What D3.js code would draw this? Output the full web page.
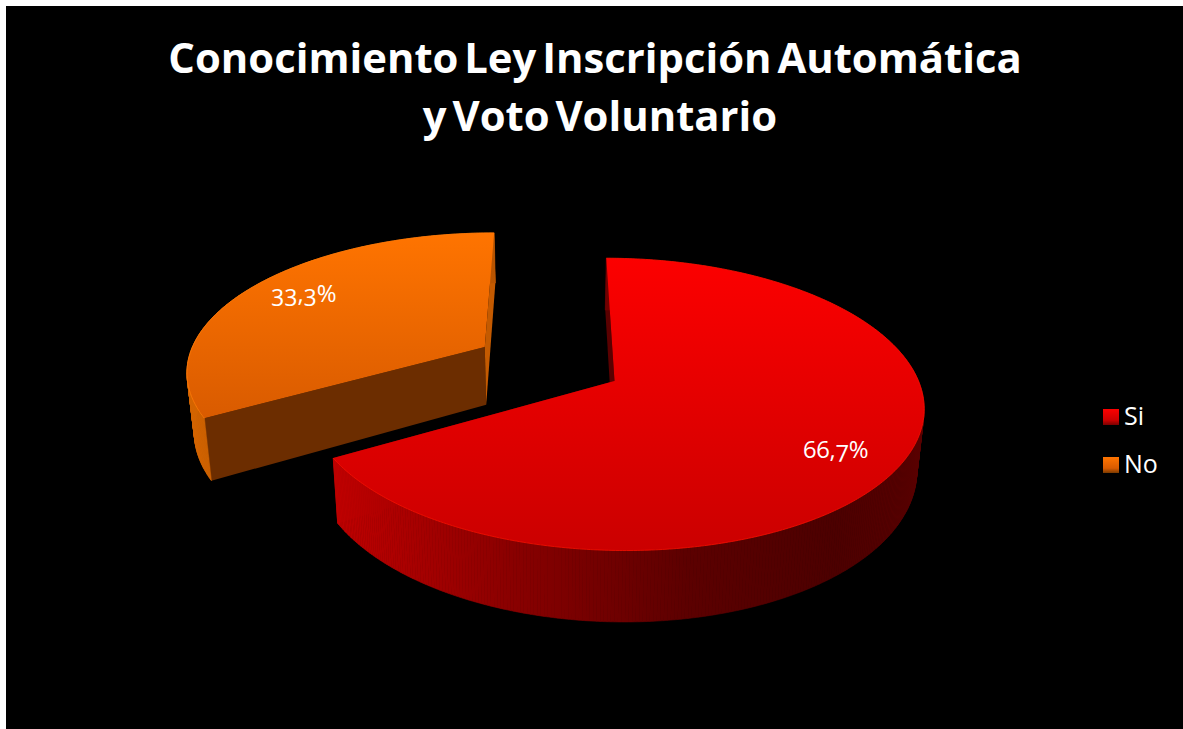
<!DOCTYPE html>
<html>
<head>
<meta charset="utf-8">
<script src="https://cdn.jsdelivr.net/npm/d3@7"></script>
<style>
    body { margin: 0; background: #fff; }
    svg { display: block; }
    text { fill: #fff; font-family: "Open Sans", Lato, sans-serif; }
</style>
</head>
<body>
<div id="chart"></div>
<script>
const titleLines = ["Conocimiento Ley Inscripción Automática", "y Voto Voluntario"];
const categories = ["Si", "No"];
const values = [66.7, 33.3];
const valueLabels = ["66,7%", "33,3%"];

const width = 1183;
const height = 729;

// perspective of the disc, fitted by eye to the reference
const centerX = 555;
const vanishY = -509;
const depth = 890;
const tilt = 0.16;
const radius = 304;
const wallHeight = 60;
const wallShrink = 0.98;

// how far each slice is pulled out of the pie: x in pixels, y in radii
const offsetX = [59.5, -73];
const offsetY = [0, -0.2477];

const topStops = [["#fc0000", "#cb0000"], ["#ff7400", "#d95b00"]];
const wallStops = [
    [[0, "#c00000"], [0.3, "#8a0000"], [0.6, "#5c0000"], [0.85, "#4c0000"], [1, "#5a0000"]],
    [[0, "#d46400"], [1, "#b85400"]]
];
const faceColors = [["#5a0000", "#7a0000"], ["#6c2d00", "#c45a00"]];
const swatchBottom = ["#7a0000", "#7a3a00"];
const rimColors = ["#f81000", "#ff7a08"];
const labelX = [836, 304];
const labelY = [458, 302];

const svg = d3.select("#chart").append("svg")
    .attr("width", width)
    .attr("height", height);

const defs = svg.append("defs");

function addGradient(id, stops, horizontal) {
    const gradient = defs.append("linearGradient")
        .attr("id", id)
        .attr("x1", 0).attr("y1", 0)
        .attr("x2", horizontal ? 1 : 0).attr("y2", horizontal ? 0 : 1);
    stops.forEach(s => {
        gradient.append("stop").attr("offset", s[0]).attr("stop-color", s[1]);
    });
    return gradient;
}

svg.append("rect")
    .attr("x", 6)
    .attr("y", 6)
    .attr("width", width - 6)
    .attr("height", height - 6)
    .attr("fill", "#000");

const slices = d3.pie().sort(null)(values);

function project(i, theta, r) {
    const X = offsetX[i] + radius * r * Math.sin(theta);
    const Y = offsetY[i] - r * Math.cos(theta);
    const w = 1 - tilt * Y;
    return [centerX + X / w, vanishY + depth / w, w];
}

function lower(p) {
    return [centerX + wallShrink * (p[0] - centerX), p[1] + wallHeight / p[2]];
}

const line = d3.line();

function rimPoints(i) {
    const angles = d3.range(slices[i].startAngle, slices[i].endAngle, 0.01);
    angles.push(slices[i].endAngle);
    return angles.map(a => project(i, a, 1));
}

// orange sits behind the red slice, so it goes first
[1, 0].forEach(i => {
    const slice = slices[i];
    const g = svg.append("g");
    const rim = rimPoints(i);
    const apex = project(i, 0, 0);
    const wallId = "wall" + i;

    addGradient("top" + i, [[0, topStops[i][0]], [1, topStops[i][1]]], false);
    addGradient(wallId, wallStops[i], true)
        .attr("gradientUnits", "userSpaceOnUse")
        .attr("x1", d3.min(rim, p => p[0]))
        .attr("x2", d3.max(rim, p => p[0]));

    [slice.startAngle, slice.endAngle].forEach((a, k) => {
        const edge = project(i, a, 1);
        g.append("path")
            .attr("d", line([apex, edge, lower(edge), lower(apex)]) + "Z")
            .attr("fill", faceColors[i][k]);
    });

    // one quad per step, a single outline would cancel itself where the wall folds over
    g.selectAll(".wall")
        .data(d3.pairs(rim))
        .enter()
        .append("path")
        .attr("class", "wall")
        .attr("d", d => line([d[0], d[1], lower(d[1]), lower(d[0])]) + "Z")
        .attr("fill", "url(#" + wallId + ")")
        .attr("stroke", "url(#" + wallId + ")")
        .attr("stroke-width", 0.6);

    g.append("path")
        .attr("d", line([...rim, apex]) + "Z")
        .attr("fill", "url(#top" + i + ")");
    g.append("path")
        .attr("d", line(rim))
        .attr("fill", "none")
        .attr("stroke", rimColors[i])
        .attr("stroke-opacity", 0.8)
        .attr("stroke-width", 1);
});

svg.selectAll(".value-label")
    .data(valueLabels)
    .enter()
    .append("text")
    .attr("class", "value-label")
    .attr("x", (d, i) => labelX[i])
    .attr("y", (d, i) => labelY[i])
    .attr("text-anchor", "middle")
    .style("font-size", "24px")
    .style("font-variant-numeric", "oldstyle-nums")
    .text(d => d);

svg.selectAll(".title")
    .data(titleLines)
    .enter()
    .append("text")
    .attr("class", "title")
    .attr("x", (d, i) => i ? 600 : 595)
    .attr("y", (d, i) => 73 + i * 58)
    .attr("text-anchor", "middle")
    .style("font-size", "41.8px")
    .style("font-weight", 700)
    .style("word-spacing", "-5px")
    .text(d => d);

const legendY = d3.scalePoint().domain(categories).range([417, 465]);

categories.forEach((c, i) => {
    addGradient("swatch" + i, [[0, topStops[i][0]], [0.7, topStops[i][1]], [1, swatchBottom[i]]], false);
});

const legend = svg.selectAll(".legend")
    .data(categories)
    .enter()
    .append("g")
    .attr("class", "legend")
    .attr("transform", d => "translate(1103," + legendY(d) + ")");

legend.append("rect")
    .attr("y", -8)
    .attr("width", 16)
    .attr("height", 16)
    .attr("fill", (d, i) => "url(#swatch" + i + ")");

legend.append("text")
    .attr("x", 21)
    .attr("y", 8)
    .style("font-size", "25px")
    .text(d => d);
</script>
</body>
</html>
